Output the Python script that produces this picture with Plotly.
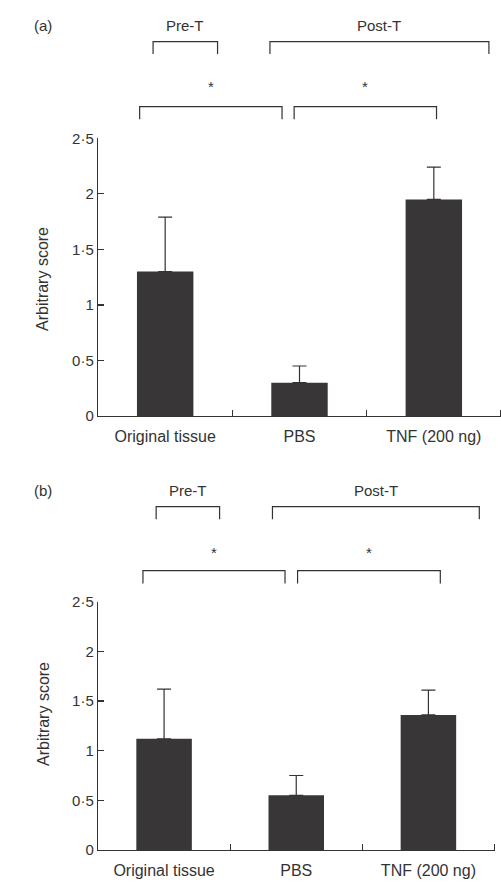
import plotly.graph_objects as go

W, H = 501, 889

categories = ["Original tissue", "PBS", "TNF (200 ng)"]
x_pos = [0, 1, 2]
means_a = [1.30, 0.30, 1.95]
errs_a = [0.49, 0.15, 0.29]
means_b = [1.12, 0.55, 1.36]
errs_b = [0.50, 0.20, 0.25]
y_ticks = [0, 0.5, 1, 1.5, 2, 2.5]
y_tick_labels = ["0", "0·5", "1", "1·5", "2", "2·5"]
panel_labels = ["(a)", "(b)"]

# bracket spans in category units
group_a = {"Pre-T": (-0.09, 0.39), "Post-T": (0.78, 2.41)}
group_b = {"Pre-T": (-0.06, 0.42), "Post-T": (0.82, 2.385)}
sig_a = [(-0.19, 0.87), (0.96, 2.02)]
sig_b = [(-0.16, 0.915), (1.01, 2.09)]

FONT = "Liberation Sans, Arial, sans-serif"
TXT = "#333333"
BAR = "#383637"

def py(px):
    return 1 - px / H

fig = go.Figure()
for i, (m, e) in enumerate([(means_a, errs_a), (means_b, errs_b)]):
    suffix = "" if i == 0 else "2"
    fig.add_trace(go.Bar(
        x=x_pos, y=m, width=0.42,
        marker=dict(color=BAR, line=dict(width=0)),
        error_y=dict(type="data", array=e, symmetric=False, arrayminus=[0] * 3,
                     color=TXT, thickness=1.2, width=7),
        xaxis="x" + suffix, yaxis="y" + suffix, showlegend=False, hoverinfo="skip"))

axis_common_x = dict(
    range=[-0.5, 2.5], tickvals=x_pos, ticktext=categories, ticks="",
    showline=True, linecolor=TXT, linewidth=1.2, showgrid=False, zeroline=False,
    automargin=False, ticklabelstandoff=6,
    tickfont=dict(family=FONT, size=16, color=TXT),
    minor=dict(tickvals=[0.5, 1.5, 2.5], ticks="inside", ticklen=6, tickcolor=TXT, tickwidth=1.2),
)
axis_common_y = dict(
    range=[0, 2.5], tickvals=y_ticks, ticktext=y_tick_labels, ticks="inside",
    ticklen=6, tickcolor=TXT, tickwidth=1.2, automargin=False,
    showline=True, linecolor=TXT, linewidth=1.2, showgrid=False, zeroline=False,
    tickfont=dict(family=FONT, size=15, color=TXT),
)

fig.update_layout(
    template="none",
    width=W, height=H, margin=dict(l=0, r=0, t=0, b=0, pad=0, autoexpand=False),
    paper_bgcolor="white", plot_bgcolor="white",
    xaxis=dict(domain=[98 / W, 1.0], anchor="y", **axis_common_x),
    yaxis=dict(domain=[py(416), py(138.3)], anchor="x", **axis_common_y),
    xaxis2=dict(domain=[98 / W, 494.5 / W], anchor="y2", **axis_common_x),
    yaxis2=dict(domain=[py(850), py(601.7)], anchor="x2", **axis_common_y),
)

annotations = []
shapes = []
line = dict(color=TXT, width=1.2)

def txt(text, x, y, xref, size=15, angle=0):
    return dict(text=text, x=x, y=y, xref=xref, yref="paper", showarrow=False,
                xanchor="center", yanchor="middle", textangle=angle,
                font=dict(family=FONT, size=size, color=TXT))

panels = [
    dict(xref="x", groups=group_a, sigs=sig_a, label_y=25, gb=(41.7, 54), star_y=87,
         sb=(106.7, 119.3), title_y=279),
    dict(xref="x2", groups=group_b, sigs=sig_b, label_y=490, gb=(506.7, 519.3), star_y=552,
         sb=(570.7, 583.5), title_y=714),
]
for p, lab in zip(panels, panel_labels):
    annotations.append(txt(lab, 43 / W, py(p["label_y"]), "paper"))
    annotations.append(txt("Arbitrary score", 43 / W, py(p["title_y"]), "paper", size=16, angle=-90))
    for name, (x0, x1) in p["groups"].items():
        annotations.append(txt(name, (x0 + x1) / 2, py(p["label_y"]), p["xref"]))
        shapes.append(dict(type="path", xref=p["xref"], yref="paper", line=line,
                           path=f"M {x0},{py(p['gb'][1])} L {x0},{py(p['gb'][0])} L {x1},{py(p['gb'][0])} L {x1},{py(p['gb'][1])}"))
    for (x0, x1) in p["sigs"]:
        annotations.append(txt("*", (x0 + x1) / 2, py(p["star_y"]), p["xref"]))
        shapes.append(dict(type="path", xref=p["xref"], yref="paper", line=line,
                           path=f"M {x0},{py(p['sb'][1])} L {x0},{py(p['sb'][0])} L {x1},{py(p['sb'][0])} L {x1},{py(p['sb'][1])}"))

fig.update_layout(annotations=annotations, shapes=shapes)
fig.write_html("out.html", config={"displayModeBar": False, "staticPlot": True},
               post_script="document.body.style.margin='0';document.body.style.overflow='hidden';")
